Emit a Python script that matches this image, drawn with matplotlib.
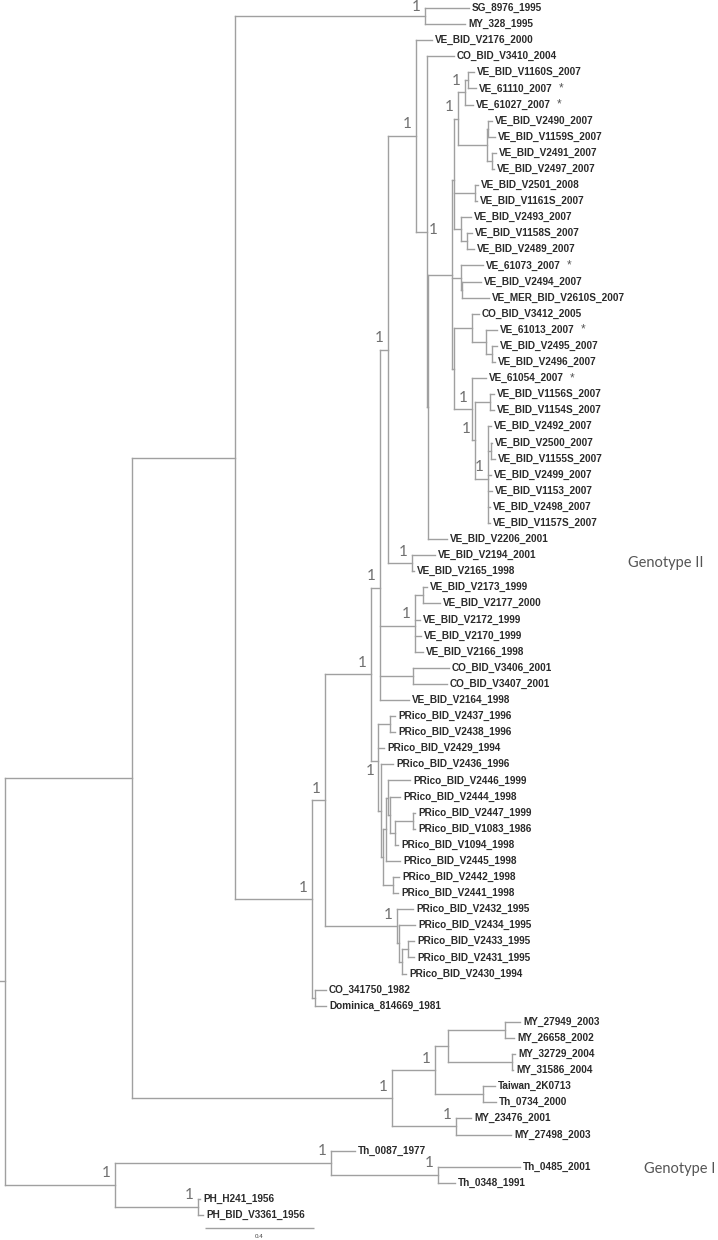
import matplotlib
matplotlib.use("Agg")
import matplotlib.pyplot as plt
from matplotlib.collections import LineCollection
import numpy as np

# ---------------- data ----------------
leaf_names = [
    'SG_8976_1995', 'MY_328_1995', 'VE_BID_V2176_2000', 'CO_BID_V3410_2004',
    'VE_BID_V1160S_2007', 'VE_61110_2007', 'VE_61027_2007',
    'VE_BID_V2490_2007', 'VE_BID_V1159S_2007', 'VE_BID_V2491_2007', 'VE_BID_V2497_2007',
    'VE_BID_V2501_2008', 'VE_BID_V1161S_2007', 'VE_BID_V2493_2007', 'VE_BID_V1158S_2007', 'VE_BID_V2489_2007',
    'VE_61073_2007', 'VE_BID_V2494_2007', 'VE_MER_BID_V2610S_2007',
    'CO_BID_V3412_2005', 'VE_61013_2007', 'VE_BID_V2495_2007', 'VE_BID_V2496_2007',
    'VE_61054_2007', 'VE_BID_V1156S_2007', 'VE_BID_V1154S_2007', 'VE_BID_V2492_2007', 'VE_BID_V2500_2007',
    'VE_BID_V1155S_2007', 'VE_BID_V2499_2007', 'VE_BID_V1153_2007', 'VE_BID_V2498_2007', 'VE_BID_V1157S_2007',
    'VE_BID_V2206_2001', 'VE_BID_V2194_2001', 'VE_BID_V2165_1998',
    'VE_BID_V2173_1999', 'VE_BID_V2177_2000', 'VE_BID_V2172_1999', 'VE_BID_V2170_1999', 'VE_BID_V2166_1998',
    'CO_BID_V3406_2001', 'CO_BID_V3407_2001', 'VE_BID_V2164_1998',
    'PRico_BID_V2437_1996', 'PRico_BID_V2438_1996', 'PRico_BID_V2429_1994', 'PRico_BID_V2436_1996',
    'PRico_BID_V2446_1999', 'PRico_BID_V2444_1998', 'PRico_BID_V2447_1999', 'PRico_BID_V1083_1986',
    'PRico_BID_V1094_1998', 'PRico_BID_V2445_1998', 'PRico_BID_V2442_1998', 'PRico_BID_V2441_1998',
    'PRico_BID_V2432_1995', 'PRico_BID_V2434_1995', 'PRico_BID_V2433_1995', 'PRico_BID_V2431_1995',
    'PRico_BID_V2430_1994',
    'CO_341750_1982', 'Dominica_814669_1981',
    'MY_27949_2003', 'MY_26658_2002', 'MY_32729_2004', 'MY_31586_2004', 'Taiwan_2K0713', 'Th_0734_2000',
    'MY_23476_2001', 'MY_27498_2003',
    'Th_0087_1977', 'Th_0485_2001', 'Th_0348_1991', 'PH_H241_1956', 'PH_BID_V3361_1956']

leaf_parent = [
    'SGMY', 'SGMY', 'H', 'I',
    'K2', 'K2', 'K',
    'L1', 'L1', 'L2', 'L2',
    'N1', 'N1', 'N2', 'N2b', 'N2b',
    'N3', 'N3b', 'N3b',
    'Q', 'Q2', 'Q3', 'Q3',
    'S', 'U1', 'U1', 'U3', 'U2', 'U2', 'U3', 'U3', 'U3', 'U3',
    'X', 'W', 'W',
    'Y1', 'Y1', 'Y', 'Y', 'Y',
    'Z', 'Z', 'F',
    'A1', 'A1', 'PR', 'B1', 'B5', 'B6', 'B8', 'B8', 'B7', 'B3', 'B4', 'B4',
    'P1', 'P2', 'P4', 'P4', 'P3',
    'COD', 'COD',
    'MYa', 'MYa', 'MYb', 'MYb', 'TW', 'TW', 'MY5', 'MY5',
    'TH', 'TH2', 'TH2', 'PH', 'PH']

leaf_depth = [
    1.703, 1.688, 1.567, 1.648,
    1.721, 1.728, 1.717,
    1.787, 1.798, 1.802, 1.794,
    1.736, 1.732, 1.710, 1.714, 1.721,
    1.754, 1.747, 1.776,
    1.739, 1.806, 1.806, 1.798,
    1.765, 1.794, 1.794, 1.783, 1.787, 1.798, 1.783, 1.787, 1.780, 1.780,
    1.622, 1.578, 1.501,
    1.549, 1.596, 1.523, 1.527, 1.534,
    1.629, 1.622, 1.483,
    1.431, 1.431, 1.391, 1.424, 1.486, 1.450, 1.505, 1.505, 1.442, 1.450, 1.446, 1.442,
    1.497, 1.505, 1.501, 1.501, 1.472,
    1.178, 1.178,
    1.890, 1.868, 1.872, 1.864, 1.798, 1.802, 1.710, 1.857,
    1.284, 1.890, 1.651, 0.716, 0.727]

starred = ['VE_61110_2007', 'VE_61027_2007', 'VE_61073_2007', 'VE_61013_2007', 'VE_61054_2007']

node_names = ['root', 'A', 'GI', 'B', 'MY1', 'SGMY', 'C', 'D', 'COD', 'E', 'P1', 'F', 'PR',
              'G', 'Y', 'Z', 'H', 'W', 'I', 'X', 'M', 'MU', 'N3', 'ML', 'J', 'K', 'K2', 'L',
              'L1', 'L2', 'N1', 'N2', 'N2b', 'N3b', 'Q', 'Q2', 'Q3', 'S', 'T', 'U1', 'U3', 'U2',
              'Y1', 'A1', 'B1', 'B2', 'B3', 'B4', 'B5', 'B6', 'B7', 'B8', 'P2', 'P3', 'P4',
              'MY2', 'MY3', 'MYa', 'MYb', 'TW', 'MY5', 'TH', 'TH2', 'PH']
node_parent = [None, 'root', 'root', 'A', 'A', 'B', 'B', 'C', 'C', 'D', 'D', 'E', 'E',
               'F', 'F', 'F', 'G', 'G', 'H', 'I', 'X', 'M', 'M', 'M', 'MU', 'J', 'K', 'J',
               'L', 'L', 'MU', 'MU', 'N2', 'N3', 'ML', 'Q', 'Q2', 'ML', 'S', 'T', 'T', 'U3',
               'Y', 'PR', 'PR', 'B1', 'B2', 'B2', 'B3', 'B5', 'B6', 'B7', 'P1', 'P2', 'P3',
               'MY1', 'MY2', 'MY3', 'MY3', 'MY2', 'MY1', 'GI', 'TH', 'GI']
node_depth = [0.0, 0.466, 0.404, 0.844, 1.420, 1.541, 1.127, 1.174, 1.138, 1.343, 1.439, 1.376, 1.369,
              1.406, 1.505, 1.497, 1.508, 1.494, 1.549, 1.552, 1.642, 1.648, 1.673, 1.648, 1.662, 1.688, 1.699, 1.769,
              1.772, 1.787, 1.725, 1.673, 1.695, 1.677, 1.714, 1.765, 1.787, 1.714, 1.725, 1.780, 1.772, 1.782,
              1.534, 1.413, 1.380, 1.387, 1.398, 1.424, 1.406, 1.413, 1.431, 1.497, 1.446, 1.457, 1.479,
              1.578, 1.626, 1.835, 1.861, 1.754, 1.655, 1.196, 1.589, 0.708]
node_support = ['', '', '1', '', '1', '1', '1', '1', '', '1', '1', '1', '1',
                '1', '1', '', '1', '1', '1', '', '', '', '', '', '1', '1', '', '',
                '', '', '', '', '', '', '', '', '', '1', '1', '', '1', '',
                '', '', '', '', '', '', '', '', '', '', '', '', '',
                '1', '', '', '', '', '1', '1', '1', '1']

genotype_labels = ['Genotype II', 'Genotype I']
scale_length = 0.4

# ---------------- layout / style ----------------
PX_PER_UNIT = 272.5          # horizontal pixels per substitution unit
ROW_PX = 16.093              # vertical pixels per tip
X0_PX, Y0_PX = 5.0, 8.0      # pixel position of root / first tip
W, H = 718, 1240
LINE_C = '#a0a0a0'
LABEL_C = '#2a2a2a'
PT = 0.72                    # points per pixel at dpi 100

fig = plt.figure(figsize=(W / 100, H / 100), dpi=100)
ax = fig.add_axes([0, 0, 1, 1])
ax.set_xlim(-X0_PX / PX_PER_UNIT, (W - X0_PX) / PX_PER_UNIT)
ax.set_ylim((H - Y0_PX) / ROW_PX, -Y0_PX / ROW_PX)
ax.axis('off')

# tree bookkeeping
depth = dict(zip(node_names, node_depth))
depth.update(dict(zip(leaf_names, leaf_depth)))
parent = dict(zip(node_names, node_parent))
parent.update(dict(zip(leaf_names, leaf_parent)))
children = {n: [] for n in node_names}
for n, p in list(zip(node_names, node_parent)) + list(zip(leaf_names, leaf_parent)):
    if p is not None:
        children[p].append(n)

ypos = {n: i for i, n in enumerate(leaf_names)}


def get_y(n):
    if n not in ypos:
        ypos[n] = float(np.mean([get_y(c) for c in children[n]]))
    return ypos[n]


get_y('root')

segs = []
for n in list(node_names) + list(leaf_names):
    p = parent[n]
    if p is not None:
        segs.append([(depth[p], ypos[n]), (depth[n], ypos[n])])
for n in node_names:
    cy = [ypos[c] for c in children[n]]
    segs.append([(depth[n], min(cy)), (depth[n], max(cy))])
# root stem
segs.append([(-X0_PX / PX_PER_UNIT, ypos['root']), (0.0, ypos['root'])])
ax.add_collection(LineCollection(segs, colors=LINE_C, linewidths=1.0, capstyle='projecting'))

# tip labels
for n in leaf_names:
    t = ax.annotate(n, xy=(depth[n], ypos[n]), xytext=(3 * PT, 0), textcoords='offset points',
                    ha='left', va='center', fontsize=7.2, fontweight='bold',
                    family=['Liberation Sans', 'DejaVu Sans'], color=LABEL_C)
    if n in starred:
        ax.annotate('*', xy=(1, 0.5), xycoords=t, xytext=(6 * PT, 0), textcoords='offset points',
                    ha='left', va='center', fontsize=8.5, color='#555555',
                    family=['Liberation Sans', 'DejaVu Sans'])

# support labels
nudge = {'PR': (-8, 10), 'I': (6, -2), 'SGMY': (-8.5, -9)}
for n, s in zip(node_names, node_support):
    if not s:
        continue
    dx, dy = nudge.get(n, (-8.5, -11.5))
    ax.annotate(s, xy=(depth[n], ypos[n]), xytext=(dx * PT, -dy * PT), textcoords='offset points',
                ha='center', va='center', fontsize=11, color='#707070',
                family=['Lato', 'DejaVu Sans'])

# scale bar
sb_x0 = (205 - X0_PX) / PX_PER_UNIT
sb_y = len(leaf_names) - 1 + 0.8
ax.plot([sb_x0, sb_x0 + scale_length], [sb_y, sb_y], color=LINE_C, lw=1.0, solid_capstyle='butt')
ax.text(sb_x0 + scale_length / 2, sb_y + 0.56, f'{scale_length:g}', ha='center', va='center',
        fontsize=4.5, color='#444444', family=['Liberation Sans', 'DejaVu Sans'])

# genotype labels
ax.text(628 / W, 1 - 563 / H, genotype_labels[0], transform=ax.transAxes, ha='left', va='center',
        fontsize=10.5, color='#555555', family=['Lato', 'DejaVu Sans'])
ax.text(1 - 3 / W, 1 - 1169 / H, genotype_labels[1], transform=ax.transAxes, ha='right', va='center',
        fontsize=10.5, color='#555555', family=['Lato', 'DejaVu Sans'])

fig.savefig('out.png', dpi=100, facecolor='white')
